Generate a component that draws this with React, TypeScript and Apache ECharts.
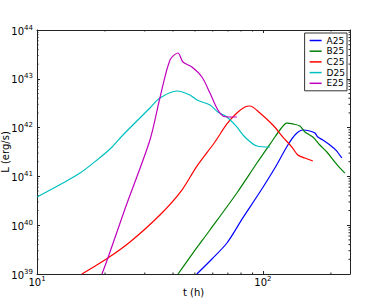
import React, { useEffect, useRef } from 'react';
import * as echarts from 'echarts';

// Series names and colours (matplotlib classic: b, g, r, c, m)
const seriesNames = ['A25', 'B25', 'C25', 'D25', 'E25'];
const seriesColors = ['#0000ff', '#008000', '#ff0000', '#00bfbf', '#bf00bf'];

// [t (h), L (erg/s)]
const A25: [number, number][] = [
  [51, 1e39], [59.5, 2.03e39], [69.3, 4.32e39], [81.5, 1.41e40], [97, 4.79e40],
  [113, 1.49e41], [129, 4.4e41], [140, 7.39e41], [150.3, 8.93e41], [161.4, 8.51e41],
  [169.9, 7.75e41], [175.1, 6.41e41], [184.3, 5.57e41], [198, 4.4e41], [210.4, 3.47e41],
  [223.7, 2.38e41],
];
const B25: [number, number][] = [
  [42.1, 1e39], [49, 2.69e39], [58.3, 7.98e39], [76.7, 4.57e40], [94.1, 1.88e41],
  [110.7, 5.57e41], [118.9, 8.93e41], [127.7, 1.24e42], [135.7, 1.19e42], [145.8, 1.08e42],
  [153.4, 8.13e41], [166.4, 6.41e41], [178.7, 4.4e41], [191.9, 3.16e41], [208.3, 1.97e41],
  [219.1, 1.49e41], [230.6, 1.17e41],
];
const C25: [number, number][] = [
  [15.8, 1e39], [20.6, 2.13e39], [25.8, 4.53e39], [35, 1.62e40], [43.8, 5.26e40],
  [51.05, 1.63e41], [61.3, 5.07e41], [69.3, 1.19e42], [76.7, 1.99e42], [83.2, 2.64e42],
  [87.6, 2.77e42], [97, 1.99e42], [110.7, 1.13e42], [122.6, 6.41e41], [134.4, 4e41],
  [142.8, 2.75e41], [153.4, 2.38e41], [166.4, 2.07e41],
];
const D25: [number, number][] = [
  [10, 3.78e40], [13.03, 7.33e40], [15.5, 1.17e41], [18.44, 2.17e41], [21.04, 3.64e41],
  [24.02, 7.05e41], [31.62, 2.52e42], [35, 4.04e42], [41.66, 5.62e42], [47.53, 4.66e42],
  [51.05, 3.68e42], [58.3, 2.9e42], [63.2, 2.09e42], [69.3, 1.65e42], [76.7, 1.03e42],
  [83.2, 6.41e41], [94.1, 4.2e41], [107.4, 4e41],
];
const E25: [number, number][] = [
  [19.39, 1e39], [20.6, 2.13e39], [24.51, 2.15e40], [31.62, 5.57e41], [35, 4.04e42],
  [38.8, 2.43e43], [42.07, 3.38e43], [44.26, 2.21e43], [48.51, 1.75e43], [53.72, 1.09e43],
  [58.3, 5.12e42], [63.2, 2.29e42], [66.53, 1.73e42], [71.45, 1.65e42], [76.7, 1.65e42],
];
const seriesData = [A25, B25, C25, D25, E25];

// Axis ranges and minor tick positions
const xMin = 10;
const xMax = 243;
const yMin = 1e39;
const yMax = 1e44;
const xMinorTicks = [20, 30, 40, 50, 60, 70, 80, 90, 200];
const yDecades = [39, 40, 41, 42, 43];
const yMinorFactors = [2, 3, 4, 5, 6, 7, 8, 9];

const FONT = 'DejaVu Sans';
const AX = '#222';

const supFmt = (v: number) => {
  const e = Math.log10(v);
  const r = Math.round(e);
  if (Math.abs(e - r) > 1e-6) return '';
  return `{b|10}{s|${r}}`;
};
const rich = {
  b: { fontSize: 10, fontFamily: FONT, color: '#000', lineHeight: 12, verticalAlign: 'bottom' },
  s: { fontSize: 7, fontFamily: FONT, color: '#000', lineHeight: 12, verticalAlign: 'top' },
};

export default function App() {
  const ref = useRef<HTMLDivElement>(null);
  useEffect(() => {
    document.body.style.margin = '0';
    const chart = echarts.init(ref.current!, null, { renderer: 'svg' });
    const yMinorTicks: number[] = [];
    yDecades.forEach((d) => yMinorFactors.forEach((k) => yMinorTicks.push(k * Math.pow(10, d))));

    const lineSeries = seriesNames.map((name, i) => ({
      name,
      type: 'line',
      data: seriesData[i],
      symbol: 'none',
      smooth: 0.3,
      clip: true,
      lineStyle: { width: 1.2, color: seriesColors[i] },
      itemStyle: { color: seriesColors[i] },
      z: 3,
    }));

    const option: any = {
      animation: false,
      backgroundColor: '#fff',
      grid: { left: 37, right: 41, top: 30, bottom: 31, containLabel: false, outerBoundsMode: 'none' },
      legend: {
        data: seriesNames,
        orient: 'vertical',
        right: 44,
        top: 33,
        icon: 'rect',
        itemWidth: 12,
        itemHeight: 1.5,
        itemGap: 1.7,
        padding: [3, 2, 3, 5],
        borderColor: '#333',
        borderWidth: 1,
        borderRadius: 0,
        backgroundColor: '#fff',
        textStyle: { fontSize: 9, fontFamily: FONT, color: '#000', lineHeight: 9 },
      },
      xAxis: [
        {
          type: 'log', logBase: 10, min: xMin, max: xMax, position: 'bottom',
          axisLine: { show: true, lineStyle: { color: AX, width: 1 } },
          axisTick: { show: true, inside: true, length: 3, lineStyle: { color: AX } },
          splitLine: { show: false },
          axisLabel: { formatter: supFmt, rich, margin: 1 },
          name: 't (h)', nameLocation: 'middle', nameGap: 13, nameMoveOverlap: false,
          nameTextStyle: { fontSize: 10, fontFamily: FONT, color: '#000' },
        },
        {
          type: 'log', logBase: 10, min: xMin, max: xMax, position: 'top',
          axisLine: { show: true, lineStyle: { color: AX, width: 1 } },
          axisTick: { show: true, inside: true, length: 3, lineStyle: { color: AX } },
          splitLine: { show: false },
          axisLabel: { show: false },
        },
      ],
      yAxis: [
        {
          type: 'log', logBase: 10, min: yMin, max: yMax, position: 'left',
          axisLine: { show: true, lineStyle: { color: AX, width: 1 } },
          axisTick: { show: true, inside: true, length: 3, lineStyle: { color: AX } },
          splitLine: { show: false },
          axisLabel: { formatter: supFmt, rich, margin: 4 },
          name: 'L (erg/s)', nameLocation: 'middle', nameGap: 27, nameMoveOverlap: false,
          nameTextStyle: { fontSize: 10, fontFamily: FONT, color: '#000' },
        },
        {
          type: 'log', logBase: 10, min: yMin, max: yMax, position: 'right',
          axisLine: { show: true, lineStyle: { color: AX, width: 1 } },
          axisTick: { show: true, inside: true, length: 3, lineStyle: { color: AX } },
          splitLine: { show: false },
          axisLabel: { show: false },
        },
      ],
      series: [
        ...lineSeries,
        {
          type: 'custom', silent: true, xAxisIndex: 0, yAxisIndex: 0, z: 5,
          data: xMinorTicks.map((v) => [v, 1e41]),
          renderItem: (params: any, api: any) => {
            const cs = params.coordSys;
            const x = api.coord([api.value(0), api.value(1)])[0];
            const yb = cs.y + cs.height;
            const yt = cs.y;
            return {
              type: 'group',
              children: [
                { type: 'line', shape: { x1: x, y1: yb, x2: x, y2: yb - 1.5 }, style: { stroke: AX, lineWidth: 1 } },
                { type: 'line', shape: { x1: x, y1: yt, x2: x, y2: yt + 1.5 }, style: { stroke: AX, lineWidth: 1 } },
              ],
            };
          },
        },
        {
          type: 'custom', silent: true, xAxisIndex: 0, yAxisIndex: 0, z: 5,
          data: yMinorTicks.map((v) => [20, v]),
          renderItem: (params: any, api: any) => {
            const cs = params.coordSys;
            const y = api.coord([api.value(0), api.value(1)])[1];
            const xl = cs.x;
            const xr = cs.x + cs.width;
            return {
              type: 'group',
              children: [
                { type: 'line', shape: { x1: xl, y1: y, x2: xl + 1.5, y2: y }, style: { stroke: AX, lineWidth: 1 } },
                { type: 'line', shape: { x1: xr, y1: y, x2: xr - 1.5, y2: y }, style: { stroke: AX, lineWidth: 1 } },
              ],
            };
          },
        },
      ],
    };
    chart.setOption(option);
    return () => chart.dispose();
  }, []);
  return <div ref={ref} style={{ width: 391, height: 305, background: '#fff' }} />;
}
